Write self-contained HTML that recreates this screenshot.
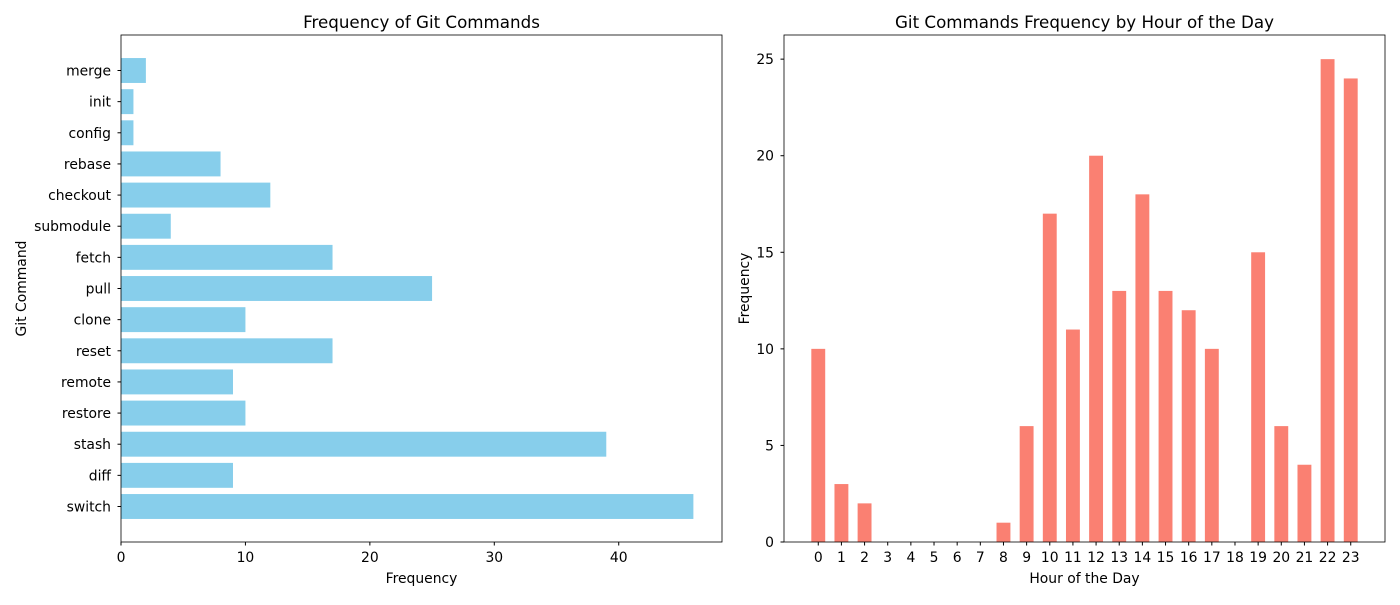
<!DOCTYPE html>
<html><head><meta charset="utf-8"><style>
body{margin:0;background:#fff;font-family:"Liberation Sans","DejaVu Sans",sans-serif}
svg text{font-family:"DejaVu Sans","Liberation Sans",sans-serif;font-size:13.9px;fill:#000}
</style></head><body>
<svg id="chart" width="1400" height="600" xmlns="http://www.w3.org/2000/svg"></svg>
<script>
const commands=["switch","diff","stash","restore","remote","reset","clone","pull","fetch","submodule","checkout","rebase","config","init","merge"];
const commandCounts=[46,9,39,10,9,17,10,25,17,4,12,8,1,1,2];
const xTicksLeft=[0,10,20,30,40];
const hours=["0","1","2","3","4","5","6","7","8","9","10","11","12","13","14","15","16","17","18","19","20","21","22","23"];
const hourCounts=[10,3,2,0,0,0,0,0,1,6,17,11,20,13,18,13,12,10,0,15,6,4,25,24];
const yTicksRight=[0,5,10,15,20,25];

const svg=document.getElementById('chart');
const NS="http://www.w3.org/2000/svg";
function mk(tag,attrs,parent,text){const e=document.createElementNS(NS,tag);for(const k in attrs)e.setAttribute(k,attrs[k]);if(text!==undefined)e.textContent=text;(parent||svg).appendChild(e);return e;}

// Left chart
const L={x0:121,x1:722,y0:35,y1:542};
const lg=mk('g',{});


const lxMax=Math.max(...commandCounts)*1.05;
const lx=v=>L.x0+v/lxMax*(L.x1-L.x0);
const n=commands.length;
const lyMin=-0.4-0.05*(n-0.2), lyMax=n-1+0.4+0.05*(n-0.2);
const ly=i=>L.y1-(i-lyMin)/(lyMax-lyMin)*(L.y1-L.y0);
const bandL=(L.y1-L.y0)/(lyMax-lyMin);
commands.forEach((c,i)=>{
  const r=mk('rect',{x:lx(0),y:ly(i)-bandL*0.4,width:lx(commandCounts[i])-lx(0),height:bandL*0.8,fill:'#87ceeb'},lg);
  
  
  mk('line',{x1:L.x0,x2:L.x0-3.5,y1:ly(i),y2:ly(i),stroke:'#000'},lg);
  const t=mk('text',{x:L.x0-10,y:ly(i)+5,'text-anchor':'end'},lg,c);
  
  
});
xTicksLeft.forEach(v=>{
  mk('line',{x1:lx(v),x2:lx(v),y1:L.y1,y2:L.y1+3.5,stroke:'#000'},lg);
  const t=mk('text',{x:lx(v),y:L.y1+20,'text-anchor':'middle'},lg,v);
  
  
});
mk('rect',{x:L.x0,y:L.y0,width:L.x1-L.x0,height:L.y1-L.y0,fill:'none',stroke:'#000','stroke-width':0.8},lg);
let t=mk('text',{x:(L.x0+L.x1)/2,y:28,'text-anchor':'middle',style:'font-size:16.7px'},lg,'Frequency of Git Commands');

t=mk('text',{x:(L.x0+L.x1)/2,y:583,'text-anchor':'middle'},lg,'Frequency');

t=mk('text',{x:26,y:(L.y0+L.y1)/2,'text-anchor':'middle',transform:'rotate(-90 26 '+((L.y0+L.y1)/2)+')'},lg,'Git Command');


// Right chart
const R={x0:784,x1:1385,y0:35,y1:542};
const rg=mk('g',{});


const m=hours.length;
const rxMin=-0.3-0.05*(m-0.4), rxMax=m-1+0.3+0.05*(m-0.4);
const rx=i=>R.x0+(i-rxMin)/(rxMax-rxMin)*(R.x1-R.x0);
const bandR=(R.x1-R.x0)/(rxMax-rxMin);
const ryMax=Math.max(...hourCounts)*1.05;
const ry=v=>R.y1-v/ryMax*(R.y1-R.y0);
hours.forEach((h,i)=>{
  const r=mk('rect',{x:rx(i)-bandR*0.3,y:ry(hourCounts[i]),width:bandR*0.6,height:ry(0)-ry(hourCounts[i]),fill:'#fa8072'},rg);
  
  
  mk('line',{x1:rx(i),x2:rx(i),y1:R.y1,y2:R.y1+3.5,stroke:'#000'},rg);
  const tt=mk('text',{x:rx(i),y:R.y1+20,'text-anchor':'middle'},rg,h);
  
  
});
yTicksRight.forEach(v=>{
  mk('line',{x1:R.x0,x2:R.x0-3.5,y1:ry(v),y2:ry(v),stroke:'#000'},rg);
  const tt=mk('text',{x:R.x0-10,y:ry(v)+5,'text-anchor':'end'},rg,v);
  
  
});
mk('rect',{x:R.x0,y:R.y0,width:R.x1-R.x0,height:R.y1-R.y0,fill:'none',stroke:'#000','stroke-width':0.8},rg);
t=mk('text',{x:(R.x0+R.x1)/2,y:28,'text-anchor':'middle',style:'font-size:16.7px'},rg,'Git Commands Frequency by Hour of the Day');

t=mk('text',{x:(R.x0+R.x1)/2,y:583,'text-anchor':'middle'},rg,'Hour of the Day');

t=mk('text',{x:749,y:(R.y0+R.y1)/2,'text-anchor':'middle',transform:'rotate(-90 749 '+((R.y0+R.y1)/2)+')'},rg,'Frequency');

</script>
</body></html>
